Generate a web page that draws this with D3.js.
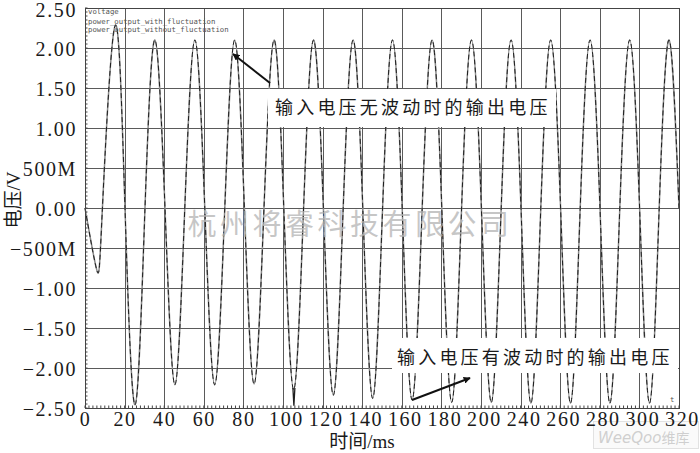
<!DOCTYPE html>
<html>
<head>
<meta charset="utf-8">
<title>输出电压</title>
<script src="https://cdn.jsdelivr.net/npm/d3@7"></script>
<style>
  body { margin: 0; background: #fff; }
  svg { display: block; }
  .num { font-family: "Liberation Serif", serif; font-size: 20px; fill: #1a1a1a; letter-spacing: 1.6px; }
  .cap { font-family: "Liberation Serif", "Noto Sans CJK SC", serif; font-size: 19px; fill: #1a1a1a; }
  .note { font-family: "Noto Sans CJK SC", sans-serif; font-size: 18px; fill: #1a1a1a; letter-spacing: 3.2px; }
  .legend { font-family: "DejaVu Sans Mono", monospace; font-size: 7.3px; fill: #555; }
</style>
</head>
<body>
<script>
var width = 700,
    height = 453;

// plot grid runs 0..300 but the printed labels skip 220 and end at 320
var xTicks = [0, 20, 40, 60, 80, 100, 120, 140, 160, 180, 200, 220, 240, 260, 280, 300];
var xTickLabels = ["0", "20", "40", "60", "80", "100", "120", "140", "160", "180", "200", "240", "260", "280", "300", "320"];
var yTicks = [2.5, 2, 1.5, 1, 0.5, 0, -0.5, -1, -1.5, -2, -2.5];
var yTickLabels = ["2.50", "2.00", "1.50", "1.00", "500M", "0.00", "\u2212500M", "\u22121.00", "\u22121.50", "\u22122.00", "\u22122.50"];

var legendNames = ["voltage", "power_output_with_fluctuation", "power_output_without_fluctuation"];

// peaks, troughs and zero crossings
var timeMs = [0, 6.0, 8.8, 15.2, 20.2, 25.3, 30.3, 35.3, 40.4, 45.4, 50.4, 55.5, 60.5, 65.5, 70.6, 75.6,
              80.5, 85.4, 90.4, 95.5, 100.4, 105.4, 110.4, 115.4, 120.4, 125.4, 130.4, 135.4, 140.3, 145.3,
              150.3, 155.3, 160.2, 165.2, 170.3, 175.3, 180.2, 185.2, 190.2, 195.2, 200.2, 205.2, 210.2, 215.2,
              220.2, 225.2, 230.2, 235.2, 240.2, 245.2, 250.1, 255.1, 260.1, 265.1, 270.1, 275.1, 280.1, 285.1,
              290.0, 295.0, 300];
var voltNoFluct = [0, -0.78, 0, 2.28, 0, -2.46, 0, 2.10, 0, -2.21, 0, 2.10, 0, -2.21, 0, 2.10,
                   0, -2.20, 0, 2.10, 0, -2.27, 0, 2.10, 0, -2.34, 0, 2.10, 0, -2.38,
                   0, 2.10, 0, -2.40, 0, 2.10, 0, -2.43, 0, 2.10, 0, -2.43, 0, 2.10,
                   0, -2.44, 0, 2.10, 0, -2.44, 0, 2.10, 0, -2.44, 0, 2.10, 0, -2.44,
                   0, 2.10, 0];
var voltFluct = [0, -0.78, 0, 2.28, 0, -2.46, 0, 2.10, 0, -2.21, 0, 2.10, 0, -2.21, 0, 2.10,
                 0, -2.20, 0, 2.10, 0, -2.27, 0, 2.10, 0, -2.34, 0, 2.10, 0, -2.38,
                 0, 2.10, 0, -2.40, 0, 2.10, 0, -2.43, 0, 2.10, 0, -2.43, 0, 2.10,
                 0, -2.44, 0, 2.10, 0, -2.44, 0, 2.10, 0, -2.44, 0, 2.10, 0, -2.44,
                 0, 2.10, 0];
// short glitch on the fluctuating trace
var glitchMs = [105.0, 105.5, 106.0];
var glitchV = [-2.25, -2.47, -2.25];

var x = d3.scaleLinear().domain([0, 300]).range([85, 679]),
    y = d3.scaleLinear().domain([-2.5, 2.5]).range([408, 8]);

var svg = d3.select("body").append("svg")
    .attr("width", width)
    .attr("height", height);

svg.append("defs").append("marker")
    .attr("id", "head")
    .attr("viewBox", "0 0 10 10")
    .attr("refX", 9).attr("refY", 5)
    .attr("markerWidth", 7).attr("markerHeight", 7)
    .attr("markerUnits", "userSpaceOnUse")
    .attr("orient", "auto")
  .append("path")
    .attr("d", "M0,0L10,5L0,10z")
    .attr("fill", "#111");

// grid
svg.append("g").selectAll("line").data(yTicks).join("line")
    .attr("x1", x(0)).attr("x2", x(300))
    .attr("y1", function (d) { return Math.round(y(d)) + 0.5; })
    .attr("y2", function (d) { return Math.round(y(d)) + 0.5; })
    .attr("stroke", "#5a5a5a").attr("stroke-width", 1);
svg.append("g").selectAll("line").data(xTicks).join("line")
    .attr("x1", function (d) { return Math.round(x(d)) + 0.5; })
    .attr("x2", function (d) { return Math.round(x(d)) + 0.5; })
    .attr("y1", y(2.5)).attr("y2", y(-2.5))
    .attr("stroke", "#5a5a5a").attr("stroke-width", 1);

// dotted minor ticks along left and bottom edges
svg.append("g").selectAll("line").data(d3.range(-2.5, 2.5001, 0.05)).join("line")
    .attr("x1", x(0)).attr("x2", x(0) + 2.5)
    .attr("y1", function (d) { return y(d); }).attr("y2", function (d) { return y(d); })
    .attr("stroke", "#444").attr("stroke-width", 1);
svg.append("g").selectAll("line").data(d3.range(0, 300.001, 2)).join("line")
    .attr("x1", function (d) { return x(d); }).attr("x2", function (d) { return x(d); })
    .attr("y1", y(-2.5)).attr("y2", y(-2.5) - 2.5)
    .attr("stroke", "#444").attr("stroke-width", 1);

// traces
var line = d3.line()
    .x(function (d) { return x(d[0]); })
    .y(function (d) { return y(d[1]); })
    .curve(d3.curveNatural);

svg.append("path")
    .datum(d3.zip(timeMs, voltNoFluct))
    .attr("d", line)
    .attr("fill", "none")
    .attr("stroke", "#8a8a8a")
    .attr("stroke-width", 1.5);

svg.append("path")
    .datum(d3.zip(timeMs, voltFluct))
    .attr("d", line)
    .attr("fill", "none")
    .attr("stroke", "#1e1e1e")
    .attr("stroke-width", 1)
    .attr("stroke-dasharray", "5,3");

svg.append("path")
    .datum(d3.zip(glitchMs, glitchV))
    .attr("d", d3.line().x(function (d) { return x(d[0]); }).y(function (d) { return y(d[1]); }))
    .attr("fill", "none")
    .attr("stroke", "#1e1e1e")
    .attr("stroke-width", 1.3);

// frame
svg.append("rect")
    .attr("x", x(0) + 0.5).attr("y", y(2.5) + 0.5)
    .attr("width", x(300) - x(0)).attr("height", y(-2.5) - y(2.5))
    .attr("fill", "none").attr("stroke", "#444");

// axes
var yAxis = svg.append("g")
    .attr("transform", "translate(" + x(0) + ",0)")
    .call(d3.axisLeft(y).tickValues(yTicks)
      .tickFormat(function (d, i) { return yTickLabels[i]; })
      .tickSize(0).tickPadding(8));
yAxis.select(".domain").remove();
yAxis.selectAll("text").attr("class", "num").attr("font-family", null).attr("font-size", null)
    .attr("dy", function (d, i) { return i === 0 ? "0.42em" : "0.35em"; });

var xAxis = svg.append("g")
    .attr("transform", "translate(0," + y(-2.5) + ")")
    .call(d3.axisBottom(x).tickValues(xTicks)
      .tickFormat(function (d, i) { return xTickLabels[i]; })
      .tickSize(0).tickPadding(4));
xAxis.select(".domain").remove();
xAxis.selectAll("text").attr("class", "num").attr("font-family", null).attr("font-size", null)
    .attr("dx", function (d) { return d > 90 ? 3 : 0; });
svg.selectAll(".tick text").attr("fill", null);

svg.append("text")
    .attr("class", "cap")
    .attr("x", 362).attr("y", 448)
    .attr("text-anchor", "middle")
    .text("时间/ms");

svg.append("text")
    .attr("class", "cap")
    .attr("transform", "translate(20,200) rotate(-90)")
    .attr("text-anchor", "middle")
    .text("电压/V");

// legend labels in the corner
svg.append("g").selectAll("text").data(legendNames).join("text")
    .attr("class", "legend")
    .attr("x", 88)
    .attr("y", function (d, i) { return i === 0 ? 14 : 16 + i * 8; })
    .text(function (d) { return d; });

svg.append("text")
    .attr("class", "legend")
    .attr("x", 670).attr("y", 402)
    .text("t");

// watermark
svg.append("text")
    .attr("x", 350).attr("y", 235)
    .attr("text-anchor", "middle")
    .attr("font-family", "Noto Sans CJK SC, sans-serif")
    .attr("font-size", 29)
    .attr("letter-spacing", 3.5)
    .attr("fill", "#b4b4b4")
    .attr("fill-opacity", 0.75)
    .text("杭州将睿科技有限公司");

// callouts
svg.append("rect").attr("x", 268).attr("y", 89).attr("width", 288).attr("height", 38).attr("fill", "#fff");
svg.append("text").attr("class", "note").attr("x", 275).attr("y", 114).text("输入电压无波动时的输出电压");
svg.append("line")
    .attr("x1", 270).attr("y1", 83).attr("x2", 233).attr("y2", 54)
    .attr("stroke", "#111").attr("stroke-width", 2)
    .attr("marker-end", "url(#head)");

svg.append("rect").attr("x", 392).attr("y", 338).attr("width", 286).attr("height", 35).attr("fill", "#fff");
svg.append("text").attr("class", "note").attr("x", 397).attr("y", 364).text("输入电压有波动时的输出电压");
svg.append("line")
    .attr("x1", 412).attr("y1", 400).attr("x2", 470).attr("y2", 378)
    .attr("stroke", "#111").attr("stroke-width", 2)
    .attr("marker-end", "url(#head)");

// site stamp bottom right, sits under the last axis labels
svg.insert("rect", ":first-child")
    .attr("x", 593.5).attr("y", 421.5).attr("width", 105).attr("height", 27)
    .attr("fill", "#fafafa").attr("stroke", "#e2e2e2");
svg.append("text")
    .attr("x", 598).attr("y", 443)
    .attr("font-family", "DejaVu Sans, sans-serif")
    .attr("font-size", 15).attr("font-style", "italic")
    .attr("fill", "#c4c4c4")
    .attr("fill-opacity", 0.8)
    .text("WeeQoo")
  .append("tspan")
    .attr("font-family", "Noto Sans CJK SC, sans-serif")
    .attr("font-style", "normal")
    .attr("font-size", 14)
    .text("维库");
</script>
</body>
</html>
